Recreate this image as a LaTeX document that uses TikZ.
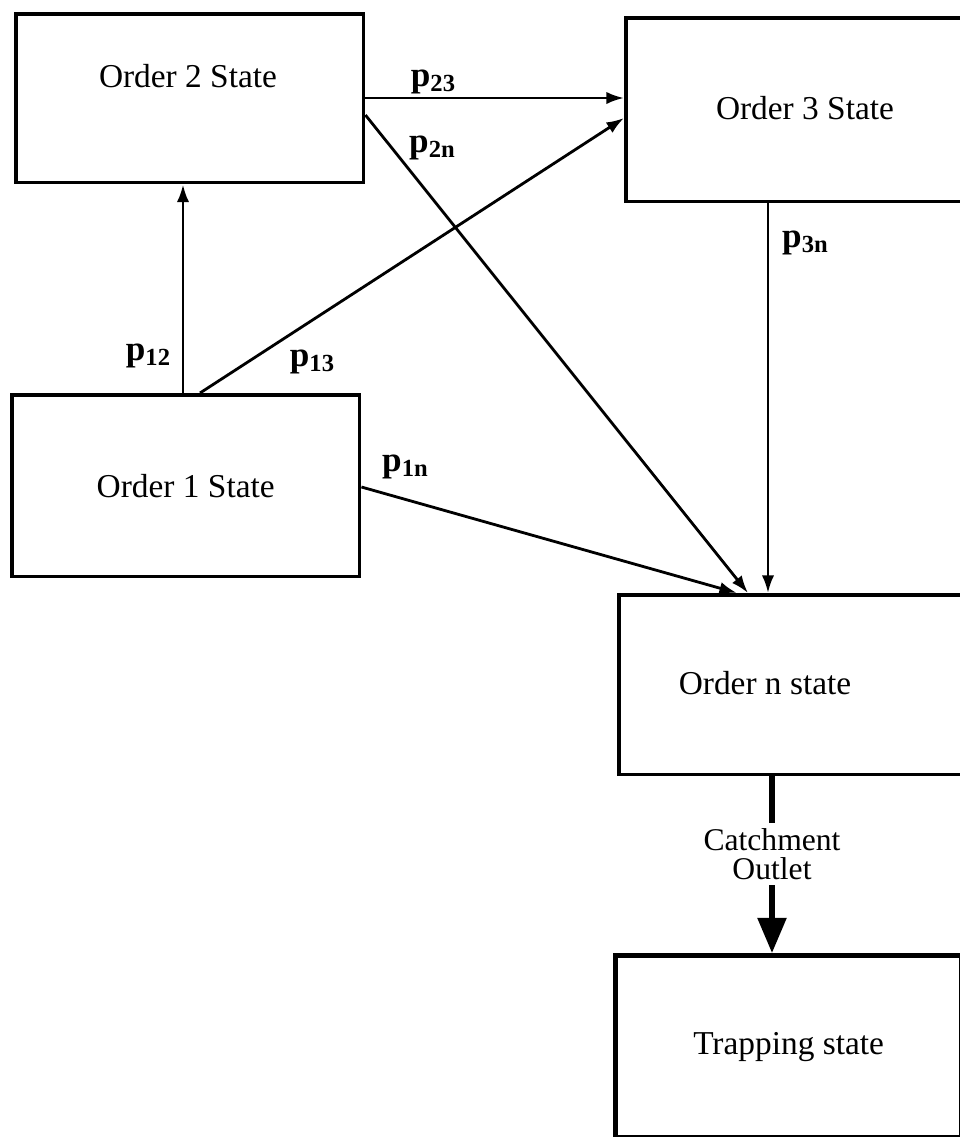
\documentclass[tikz,border=0pt]{standalone}
\usepackage{fontspec}
\setmainfont{Liberation Serif}
\usetikzlibrary{arrows.meta,calc}
\newcommand{\prob}[1]{\textbf{p}\raisebox{-0.3ex}{\fontsize{14}{14}\selectfont\bfseries #1}}
\begin{document}
\begin{tikzpicture}[x=0.02cm,y=-0.02cm,font=\fontsize{19}{22}\selectfont]
    \tikzstyle{box}=[draw,line width=2pt,anchor=north west,inner sep=0pt]
    \tikzstyle{trans}=[line width=1.6pt,-{Latex[length=10pt,width=7pt]}]
    \tikzstyle{plabel}=[font=\fontsize{20}{22}\selectfont]
    \useasboundingbox (0,0) rectangle (960,1137);
    \clip (0,0) rectangle (960,1137);
    % the states
    \node[box,minimum width=6.96cm,minimum height=3.38cm] (o2) at (14,12) {};
    \node (t2) at (188,76) {Order 2 State};
    \node[box,minimum width=8cm,minimum height=3.68cm] (o3) at (624,16) {};
    \node (t3) at (805,108) {Order 3 State};
    \node[box,minimum width=6.96cm,minimum height=3.64cm] (o1) at (10,393) {Order 1 State};
    \node[box,minimum width=8cm,minimum height=3.6cm] (on) at (617,593) {};
    \node (tn) at (765,683) {Order n state};
    \node[box,line width=3pt,minimum width=6.92cm,minimum height=3.64cm] (tr) at (613,953) {Trapping state};
    % transitions
    \draw[trans] ($(o1.north west)+(173,0)$) -- ($(o2.south west)+(169,0)$);
    \draw[trans] ($(o1.north west)+(190,0)$) -- ($(o3.north west)+(0,102)$);
    \draw[trans] ($(o2.north east)+(0,86)$) -- ($(o3.north west)+(0,82)$);
    \draw[trans] ($(o2.north east)+(0,103)$) -- ($(on.north west)+(131,0)$);
    \draw[trans] ($(o1.north east)+(0,94)$) -- ($(on.north west)+(120,0)$);
    \draw[trans] ($(o3.south west)+(144,0)$) -- ($(on.north west)+(151,0)$);
    \draw[line width=3pt,-{Triangle[length=20pt,width=16pt]}] ($(on.south west)+(155,0)$)
      -- node[pos=0.44,fill=white,align=center,inner sep=3pt,font=\fontsize{18}{17}\selectfont] (outlet) {Catchment\\Outlet}
      ($(tr.north west)+(159,0)$);
    % labels
    \node[plabel] (l12) at (148,356) {\prob{12}};
    \node[plabel] (l13) at (312,362) {\prob{13}};
    \node[plabel] (l23) at (433,82) {\prob{23}};
    \node[plabel] (l2n) at (432,148) {\prob{2n}};
    \node[plabel] (l1n) at (405,467) {\prob{1n}};
    \node[plabel] (l3n) at (805,243) {\prob{3n}};
\end{tikzpicture}
\end{document}
